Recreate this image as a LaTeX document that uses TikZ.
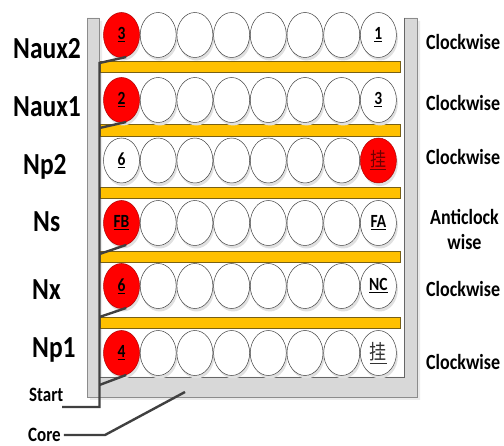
\documentclass[tikz,border=0pt]{standalone}
\usepackage{fontspec}
\usepackage{graphicx}
\setmainfont{Carlito}
\newfontfamily\cjk{Noto Sans CJK SC}
\usetikzlibrary{shapes.geometric}

\definecolor{coilred}{RGB}{255,0,0}
\definecolor{coilrim}{RGB}{176,0,0}
\definecolor{hanzired}{RGB}{110,0,0}
\definecolor{barfill}{RGB}{255,192,0}
\definecolor{barrim}{RGB}{120,96,20}
\definecolor{coregray}{RGB}{216,216,216}
\definecolor{corerim}{RGB}{140,140,140}
\definecolor{leadgray}{RGB}{64,64,64}

% text in this drawing is set slightly taller than wide
\newcommand{\tall}[1]{\scalebox{1}[1.2]{#1}}

\tikzset{
  turn/.style={ellipse, draw=black!75, line width=0.5pt, fill=white,
    minimum width=36pt, minimum height=45pt, inner sep=0pt,
    font=\bfseries\fontsize{15.5}{15.5}\selectfont},
  hot/.style={turn, fill=coilred, draw=coilrim},
  winding/.style={font=\bfseries\fontsize{25.5}{25.5}\selectfont, anchor=base west, inner sep=0pt},
  sense/.style={font=\bfseries\fontsize{18}{18}\selectfont, anchor=base west, inner sep=0pt},
  tag/.style={font=\bfseries\fontsize{17}{17}\selectfont, anchor=base west, inner sep=0pt},
  lead/.style={draw=leadgray, line width=2.4pt},
  insul/.style={fill=barfill, draw=barrim, line width=0.6pt},
  shade/.style={fill=black!12},
}

\begin{document}
\begin{tikzpicture}[x=1pt,y=-1pt]
\useasboundingbox (0,0) rectangle (504,446);

% core: U-shaped limb with a soft shadow
\fill[black!8] (90,21) -- (90,400) -- (420,400) -- (420,21) -- (407,21) -- (407,380) -- (102,380) -- (102,21) -- cycle;
\draw[corerim, fill=coregray, line width=0.7pt]
  (87,18) -- (87,397) -- (417,397) -- (417,18) -- (404,18) -- (404,377) -- (99,377) -- (99,18) -- cycle;
\draw[black!60, line width=0.6pt] (404,18) -- (404,377) -- (99,377);

% insulation layers between windings
\draw[insul] (100,61) rectangle (400,72);
\draw[insul] (100,124) rectangle (400,136);
\draw[insul] (100,187) rectangle (400,198);
\draw[insul] (100,251) rectangle (400,262);
\draw[insul] (100,317) rectangle (400,328);

% turn shadows
\foreach \y in {35,100,160.5,223,286,353}
  \foreach \c in {1,...,8}
    \fill[shade] ({121.5+36.7*(\c-1)+1.5},{\y+3}) ellipse (18 and 22.5);

% plain turns (columns 2..7)
\foreach \r/\y in {1/35,2/100,3/160.5,4/223,5/286,6/353}
  \foreach \c in {2,...,7}
    \node[turn] (c\r\c) at ({121.5+36.7*(\c-1)},\y) {};

% first and last turn of each winding
\node[hot]  (c11) at (121.5,35)    {\tall{\underline{3}}};
\node[turn] (c18) at (378.4,35)    {\tall{\underline{1}}};
\node[hot]  (c21) at (121.5,100)   {\tall{\underline{2}}};
\node[turn] (c28) at (378.4,100)   {\tall{\underline{3}}};
\node[turn] (c31) at (121.5,160.5) {\tall{\underline{6}}};
\node[hot]  (c38) at (378.4,160.5) {\tall{\color{hanzired}\cjk\mdseries\fontsize{16}{16}\selectfont\underline{挂}}};
\node[hot]  (c41) at (121.5,223)   {\tall{\underline{FB}}};
\node[turn] (c48) at (378.4,223)   {\tall{\underline{FA}}};
\node[hot]  (c51) at (121.5,286)   {\tall{\underline{6}}};
\node[turn] (c58) at (378.4,286)   {\tall{\underline{NC}}};
\node[hot]  (c61) at (121.5,353)   {\tall{\underline{4}}};
\node[turn] (c68) at (378.4,353)   {\tall{\color{black!80}\cjk\mdseries\fontsize{17}{17}\selectfont\underline{挂}}};

% start lead running up the core side, tapped to each winding start
\coordinate (startend) at (62,407);
\coordinate (startknee) at (99.5,407);
\coordinate (tap1) at (99.5,63);
\coordinate (tap2) at (99.5,128);
\coordinate (tap4) at (99.5,254);
\coordinate (tap5) at (99.5,317);
\coordinate (tap6) at (99.5,385);
\draw[lead] (startend) -- (startknee) -- (tap1) -- (c11.-78);
\draw[lead] (tap2) -- (c21.-78);
\draw[lead] (tap4) -- (c41.-78);
\draw[lead] (tap5) -- (c51.-78);
\draw[lead] (tap6) -- (c61.-78);

% winding names
\node[winding] (naux2) at (13,59)  {\tall{Naux2}};
\node[winding] (naux1) at (13,117) {\tall{Naux1}};
\node[winding] (np2)   at (23,175) {\tall{Np2}};
\node[winding] (ns)    at (33,232) {\tall{Ns}};
\node[winding] (nx)    at (32,300) {\tall{Nx}};
\node[winding] (np1)   at (32,358) {\tall{Np1}};

% winding directions
\node[sense] (d1) at (426,50)  {\tall{Clockwise}};
\node[sense] (d2) at (426,111) {\tall{Clockwise}};
\node[sense] (d3) at (426,165) {\tall{Clockwise}};
\node[sense, anchor=base] (d4a) at (464.5,225) {\tall{Anticlock}};
\node[sense, anchor=base] (d4b) at (464.5,250) {\tall{wise}};
\node[sense] (d5) at (426,297) {\tall{Clockwise}};
\node[sense] (d6) at (426,370) {\tall{Clockwise}};

% start and core callouts
\node[tag] (startlbl) at (29,402) {\tall{Start}};
\node[tag] (corelbl)  at (28,442) {\tall{Core}};
\coordinate (coreknee) at (105,435);
\coordinate (coretip) at (185,392);
\draw[lead] (corelbl.east |- coreknee) ++(3,0) -- (coreknee) -- (coretip);
\end{tikzpicture}
\end{document}
